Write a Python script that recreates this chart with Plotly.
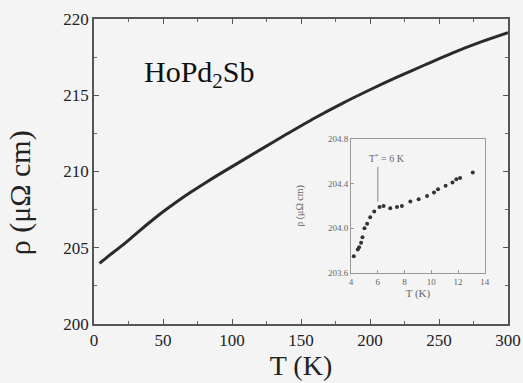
import plotly.graph_objects as go

# Main curve: resistivity vs temperature
T_main = [4, 10, 20, 30, 40, 50, 60, 70, 80, 90, 100, 120, 140, 160, 180, 200, 220, 240, 260, 280, 300]
rho_main = [203.98, 204.42, 205.12, 205.88, 206.64, 207.36, 208.02, 208.64, 209.22, 209.78, 210.32,
            211.4, 212.47, 213.51, 214.47, 215.36, 216.2, 217.0, 217.78, 218.48, 219.1]

# Inset: low temperature detail
T_inset = [4.2, 4.5, 4.6, 4.75, 4.85, 5.0, 5.2, 5.43, 5.73, 6.13, 6.43, 6.93, 7.43, 7.8,
           8.43, 9.05, 9.68, 10.2, 10.5, 11.07, 11.58, 11.87, 12.15, 13.1]
rho_inset = [203.75, 203.81, 203.83, 203.87, 203.92, 204.0, 204.04, 204.1, 204.15, 204.19,
             204.2, 204.18, 204.19, 204.2, 204.24, 204.26, 204.29, 204.32, 204.35, 204.38,
             204.41, 204.44, 204.45, 204.5]

main_xticks = [0, 50, 100, 150, 200, 250, 300]
main_yticks = [200, 205, 210, 215, 220]
inset_xticks = [4, 6, 8, 10, 12, 14]
inset_yticks = [203.6, 204.0, 204.4, 204.8]
inset_ytext = ["203.6", "204.0", "204.4", "204.8"]

T_star = 6
T_star_line = [204.24, 204.55]

SERIF = "Liberation Serif"
BG = "#f4f4f4"
AX = "#555"

fig = go.Figure()
fig.add_trace(go.Scatter(x=T_main, y=rho_main, mode="lines",
                         line=dict(color="#2a2a2a", width=3, shape="spline", smoothing=0.8),
                         xaxis="x", yaxis="y", showlegend=False))
# empty trace so the top/right tick axes get drawn
fig.add_trace(go.Scatter(x=[], y=[], xaxis="x3", yaxis="y3", showlegend=False))
fig.add_trace(go.Scatter(x=T_inset, y=rho_inset, mode="markers",
                         marker=dict(color="#333", size=4),
                         xaxis="x2", yaxis="y2", showlegend=False))
fig.add_trace(go.Scatter(x=[T_star, T_star], y=T_star_line, mode="lines",
                         line=dict(color="#888", width=1),
                         xaxis="x2", yaxis="y2", showlegend=False))

axis_common = dict(showline=True, linecolor=AX, linewidth=1.5, mirror=True,
                   ticks="inside", ticklen=5, tickcolor=AX, showgrid=False, zeroline=False,
                   automargin=False)

fig.update_layout(
    width=523, height=383,
    paper_bgcolor=BG, plot_bgcolor=BG,
    margin=dict(l=94, r=15, t=19, b=59, autoexpand=False),
    font=dict(family=SERIF, color="#222"),
    xaxis=dict(range=[0, 300], tickvals=main_xticks, domain=[0, 1],
               tickfont=dict(size=17, family=SERIF, color="#222"),
               title=dict(text="T (K)", font=dict(size=28, family=SERIF, color="#222"), standoff=2),
               minor=dict(dtick=25, ticks="inside", ticklen=3, tickcolor="#666"),
               **axis_common),
    yaxis=dict(range=[200, 220], tickvals=main_yticks, domain=[0, 1],
               tickfont=dict(size=17, family=SERIF, color="#222"),
               minor=dict(dtick=2.5, ticks="inside", ticklen=3, tickcolor="#666"),
               **axis_common),
    xaxis3=dict(range=[0, 300], overlaying="x", side="top", anchor="y3",
                tickvals=main_xticks, showticklabels=False,
                ticks="inside", ticklen=5, tickcolor=AX, showgrid=False, zeroline=False,
                showline=False, automargin=False,
                minor=dict(dtick=25, ticks="inside", ticklen=3, tickcolor="#666")),
    yaxis3=dict(range=[200, 220], overlaying="y", side="right", anchor="x3",
                tickvals=main_yticks, showticklabels=False,
                ticks="inside", ticklen=5, tickcolor=AX, showgrid=False, zeroline=False,
                showline=False, automargin=False,
                minor=dict(dtick=2.5, ticks="inside", ticklen=3, tickcolor="#666")),
    xaxis2=dict(range=[4, 14], tickvals=inset_xticks, domain=[0.621, 0.944], anchor="y2",
                tickfont=dict(size=9, family=SERIF, color="#666"),
                title=dict(text="T (K)", font=dict(size=11, family=SERIF, color="#666"), standoff=2),
                showline=True, linecolor="#999", linewidth=1, mirror=True, automargin=False,
                ticks="inside", ticklen=3, tickcolor="#999", showgrid=False, zeroline=False),
    yaxis2=dict(range=[203.6, 204.8], tickvals=inset_yticks, ticktext=inset_ytext,
                domain=[0.167, 0.607], anchor="x2",
                tickfont=dict(size=9, family=SERIF, color="#666"),
                title=dict(text="ρ (μΩ cm)", font=dict(size=10, family=SERIF, color="#666"), standoff=22),
                showline=True, linecolor="#999", linewidth=1, mirror=True, automargin=False,
                ticks="inside", ticklen=3, tickcolor="#999", showgrid=False, zeroline=False),
    annotations=[
        dict(text="ρ (μΩ cm)", x=-0.18, y=0.43, xref="paper", yref="paper",
             xanchor="center", yanchor="middle", textangle=-90, showarrow=False,
             font=dict(size=30, family=SERIF, color="#222")),
        dict(text="HoPd<sub>2</sub>Sb", x=0.115, y=0.82, xref="paper", yref="paper",
             xanchor="left", yanchor="middle", showarrow=False,
             font=dict(size=30, family=SERIF, color="#111")),
        dict(text="T<sup>*</sup> = 6 K", x=5.2, y=204.56, xref="x2", yref="y2",
             xanchor="left", yanchor="bottom", showarrow=False,
             font=dict(size=10, family=SERIF, color="#666")),
    ],
)

fig.write_html("out.html", config={"displayModeBar": False},
               post_script="document.body.style.margin='0';document.body.style.overflow='hidden';")
